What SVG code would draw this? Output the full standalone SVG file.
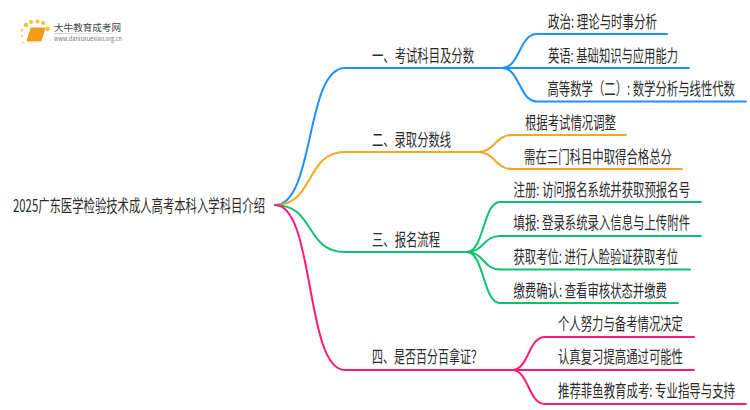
<svg xmlns="http://www.w3.org/2000/svg" width="750" height="410" viewBox="0 0 750 410">
<style>
text{font-family:"Noto Sans CJK SC","Noto Sans",sans-serif;font-size:17px;fill:#2b2b2b}
.c{fill:none;stroke-width:2;stroke-linecap:round}
.b{stroke:#1e90ff}.o{stroke:#f5a623}.g{stroke:#0fbf70}.p{stroke:#ff1a75}
</style>
<defs><linearGradient id="fade"><stop offset="0" stop-color="#ccc"/><stop offset="1" stop-color="#ccc" stop-opacity="0"/></linearGradient></defs>
<rect width="750" height="410" fill="#fff"/>
<g id="logo">
<circle cx="26" cy="25" r="2.2" fill="#fbbf3a"/><circle cx="31" cy="22" r="2" fill="#fbbf3a"/><circle cx="37.500" cy="21.500" r="2" fill="#fbbf3a"/><circle cx="43" cy="23" r="2" fill="#fbbf3a"/><circle cx="47.500" cy="29" r="2.200" fill="#fbbf3a"/><circle cx="22" cy="30.500" r="1.400" fill="#fbd080"/><circle cx="22" cy="36" r="1.200" fill="#fbd080"/><circle cx="23.500" cy="42.500" r="1" fill="#fbd080"/>
<path d="M31 28H45L41 41H27Z" fill="#f59a1c" stroke="#f59a1c" stroke-linejoin="round"/><path d="M27 41H41L40 42.500H28Z" fill="#fbd9a0"/>
<rect x="54" y="33" width="80" height="1" fill="url(#fade)"/>
<text x="54" y="31" textLength="67" lengthAdjust="spacingAndGlyphs" style="font-size:9.500px;fill:#444">大牛教育成考网</text>
<text x="54" y="41" textLength="68" lengthAdjust="spacingAndGlyphs" style="font-size:6.500px;fill:#777">www.daniuxuexiao.org.cn</text>
</g>
<g id="connectors">
<path class="c b" d="M275 205C315 205 305 68 345 68H502"/>
<path class="c o" d="M275 205C315 205 305 152 345 152H478"/>
<path class="c g" d="M275 205C315 205 305 252 345 252H467"/>
<path class="c p" d="M275 205C315 205 305 370 345 370H512"/>
<path class="c b" d="M502 68C520 68 519 34 537 34H667"/>
<path class="c b" d="M502 68H689"/>
<path class="c b" d="M502 68C520 68 519 101.500 537 101.500H746"/>
<path class="c o" d="M478 152C495 152 495 135 512 135H626"/>
<path class="c o" d="M478 152C495 152 495 169 512 169H682"/>
<path class="c g" d="M467 252C484 252 483 202 500 202H701"/>
<path class="c g" d="M467 252C484 252 483 236 500 236H701"/>
<path class="c g" d="M467 252C484 252 483 269.500 500 269.500H690"/>
<path class="c g" d="M467 252C484 252 483 303 500 303H678"/>
<path class="c p" d="M512 370C529 370 528 337 545 337H694"/>
<path class="c p" d="M512 370H694"/>
<path class="c p" d="M512 370C529 370 528 404 545 404H746"/>
</g>
<g id="root"><text transform="translate(13 212) scale(.68 1)" textLength="370.600" lengthAdjust="spacingAndGlyphs">2025广东医学检验技术成人高考本科入学科目介绍</text></g>
<g id="n1"><text transform="translate(372 62) scale(.68 1)" textLength="150" lengthAdjust="spacingAndGlyphs">一、考试科目及分数</text></g>
<g id="n1-1"><text transform="translate(548 28) scale(.68 1)" textLength="160.300" lengthAdjust="spacingAndGlyphs">政治: 理论与时事分析</text></g>
<g id="n1-2"><text transform="translate(548 62) scale(.68 1)" textLength="191.200" lengthAdjust="spacingAndGlyphs">英语: 基础知识与应用能力</text></g>
<g id="n1-3"><text transform="translate(547.500 95) scale(.68 1)" textLength="275.700" lengthAdjust="spacingAndGlyphs">高等数学（二）: 数学分析与线性代数</text></g>
<g id="n2"><text transform="translate(372 146) scale(.68 1)" textLength="116.200" lengthAdjust="spacingAndGlyphs">二、录取分数线</text></g>
<g id="n2-1"><text transform="translate(525 129) scale(.68 1)" textLength="133.800" lengthAdjust="spacingAndGlyphs">根据考试情况调整</text></g>
<g id="n2-2"><text transform="translate(524 163) scale(.68 1)" textLength="217.600" lengthAdjust="spacingAndGlyphs">需在三门科目中取得合格总分</text></g>
<g id="n3"><text transform="translate(372 246) scale(.68 1)" textLength="100" lengthAdjust="spacingAndGlyphs">三、报名流程</text></g>
<g id="n3-1"><text transform="translate(513.500 196) scale(.68 1)" textLength="259.600" lengthAdjust="spacingAndGlyphs">注册: 访问报名系统并获取预报名号</text></g>
<g id="n3-2"><text transform="translate(513.500 229) scale(.68 1)" textLength="259.600" lengthAdjust="spacingAndGlyphs">填报: 登录系统录入信息与上传附件</text></g>
<g id="n3-3"><text transform="translate(513.500 263) scale(.68 1)" textLength="241.900" lengthAdjust="spacingAndGlyphs">获取考位: 进行人脸验证获取考位</text></g>
<g id="n3-4"><text transform="translate(513.500 297) scale(.68 1)" textLength="225.700" lengthAdjust="spacingAndGlyphs">缴费确认: 查看审核状态并缴费</text></g>
<g id="n4"><text transform="translate(372 363) scale(.68 1)" textLength="161.800" lengthAdjust="spacingAndGlyphs">四、是否百分百拿证？</text></g>
<g id="n4-1"><text transform="translate(558 330) scale(.68 1)" textLength="183.800" lengthAdjust="spacingAndGlyphs">个人努力与备考情况决定</text></g>
<g id="n4-2"><text transform="translate(558 363) scale(.68 1)" textLength="183.800" lengthAdjust="spacingAndGlyphs">认真复习提高通过可能性</text></g>
<g id="n4-3"><text transform="translate(558 397) scale(.68 1)" textLength="260.300" lengthAdjust="spacingAndGlyphs">推荐菲鱼教育成考: 专业指导与支持</text></g>
</svg>
